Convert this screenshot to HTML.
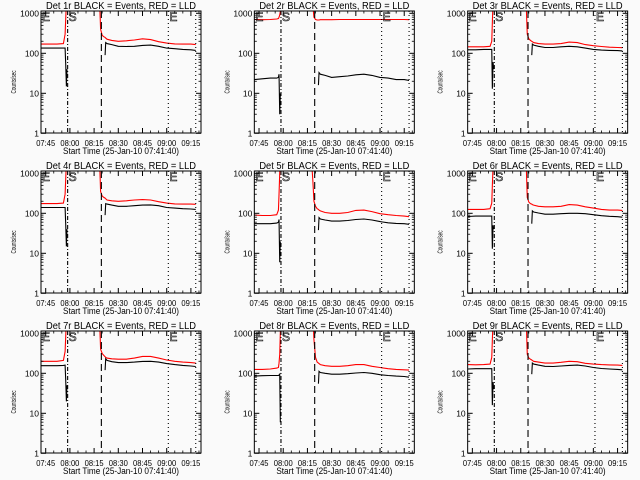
<!DOCTYPE html>
<html><head><meta charset="utf-8"><style>
html,body{margin:0;padding:0;background:#fafafa;}
svg{display:block;font-family:"Liberation Sans",sans-serif;}
</style></head><body>
<svg id="chart" width="640" height="480" viewBox="0 0 640 480" xmlns="http://www.w3.org/2000/svg">
<rect width="640" height="480" fill="#fafafa"/>
</svg>
<script>
// time in minutes since 07:45
const times = [-2.8, 2, 7, 11, 12, 12.4, 12.8, 13.2, 13.6, 32.8, 33.4, 34, 35, 36, 36.8, 37.2, 38, 41, 45, 50, 55, 60, 65, 70, 75, 80, 85, 90, 93];
const xTickLabels = ["07:45","08:00","08:15","08:30","08:45","09:00","09:15"];
const xTickTimes = [0,15,30,45,60,75,90];
const yTickLabels = ["1","10","100","1000"];
const yTickValues = [1,10,100,1000];
const panelTitles = ["Det 1r BLACK = Events, RED = LLD","Det 2r BLACK = Events, RED = LLD","Det 3r BLACK = Events, RED = LLD","Det 4r BLACK = Events, RED = LLD","Det 5r BLACK = Events, RED = LLD","Det 6r BLACK = Events, RED = LLD","Det 7r BLACK = Events, RED = LLD","Det 8r BLACK = Events, RED = LLD","Det 9r BLACK = Events, RED = LLD"];
const markerTimes = [13.6, 34.5, 76, 93];
const N = null;
const red1 = [170,170,170,175,300,700,2000,5000,5000,5000,2000,400,280,260,250,240,225,210,200,205,215,230,220,195,180,172,170,170,165];
const black1 = [135,135,135,135,135,55,15,40,N,N,N,N,N,N,90,185,175,165,150,148,150,158,160,150,135,130,125,122,118];
const red2 = [700,690,700,720,740,800,900,1100,5000,5000,1500,800,700,680,680,680,690,690,690,700,700,700,700,700,700,700,700,700,690];
const black2 = [22,23,24,24,25,30,3,10,N,N,N,N,N,N,16,33,30,28,25,26,27,29,30,28,25,24,22,22,21];
const red3 = [145,145,145,150,200,600,2000,5000,5000,5000,1500,300,230,210,200,195,185,175,170,170,175,190,185,165,155,148,142,140,138];
const black3 = [122,122,125,125,125,13,60,40,N,N,N,N,N,N,90,170,160,150,140,140,145,150,145,135,125,120,118,117,115];
const red4 = [175,175,175,180,300,700,2000,5000,5000,5000,2000,350,270,250,240,230,215,205,200,205,215,220,215,195,180,172,170,170,168];
const black4 = [140,140,140,140,140,55,15,40,N,N,N,N,N,N,90,175,170,160,150,150,155,160,162,155,140,135,130,128,125];
const red5 = [90,88,88,92,120,300,1000,5000,5000,1500,600,200,150,130,125,120,115,105,100,100,105,118,120,110,98,92,88,85,82];
const black5 = [55,55,55,57,60,70,6,20,N,N,N,N,N,N,38,78,72,68,64,64,66,70,72,68,62,58,56,55,53];
const red6 = [125,125,125,130,180,500,1500,5000,5000,5000,1500,250,190,175,170,165,160,150,145,145,150,165,160,145,135,125,120,120,118];
const black6 = [83,85,85,85,85,13,50,40,N,N,N,N,N,N,55,115,108,102,95,95,98,100,100,98,92,87,84,82,80];
const red7 = [200,200,200,210,350,800,2500,5000,5000,5000,2000,400,310,280,260,250,240,230,225,225,240,265,265,240,215,200,190,185,180];
const black7 = [155,155,155,158,160,70,20,50,N,N,N,N,N,N,120,230,210,195,185,185,190,198,200,190,175,165,158,152,148];
const red8 = [125,125,128,135,140,180,300,1000,5000,5000,2500,700,250,190,180,175,165,155,150,150,155,165,165,150,140,130,125,122,120];
const black8 = [85,87,88,88,88,90,95,6,N,N,N,N,N,N,55,112,105,100,95,95,98,102,105,100,92,88,85,83,80];
const red9 = [165,163,165,170,250,700,2000,5000,5000,5000,2000,300,240,225,215,210,200,190,180,180,188,200,195,178,170,165,162,160,158];
const black9 = [128,130,130,130,130,16,60,40,N,N,N,N,N,N,95,180,170,160,150,148,152,158,160,152,140,132,128,125,122];
const redSeries = [red1,red2,red3,red4,red5,red6,red7,red8,red9];
const blackSeries = [black1,black2,black3,black4,black5,black6,black7,black8,black9];

const NS = "http://www.w3.org/2000/svg";
const svg = document.getElementById("chart");
function mk(tag, attrs, parent){
  const e = document.createElementNS(NS, tag);
  for (const k in attrs) e.setAttribute(k, attrs[k]);
  (parent||svg).appendChild(e);
  return e;
}
const BL=41, BR=201, BT=11, BB=133;
function xs(t){ return 45.7 + t*(24.2/15); }
function ys(v){ return 133.3 - Math.log10(v)*40; }

for (let p=0;p<9;p++){
  const ox = (p%3)*213.33, oy = Math.floor(p/3)*160;
  const g = mk("g",{transform:`translate(${ox.toFixed(2)},${oy})`});
  
  
  const cp = mk("clipPath",{id:"clip"+p}, g);
  mk("rect",{x:BL,y:BT,width:BR-BL,height:BB-BT},cp);

  const title = mk("text",{x:121,y:9,"font-size":"10","text-anchor":"middle",textLength:"150",lengthAdjust:"spacingAndGlyphs"},g);
  title.textContent = panelTitles[p];
  
  

  [[redSeries[p],"#ff0000","red-lld-line"],[blackSeries[p],"#000000","black-events-line"]].forEach(([vals,col,name])=>{
    let d="", pen=false;
    for (let i=0;i<times.length && i<vals.length;i++){
      const v = vals[i];
      if (v===null){ pen=false; continue; }
      d += (pen?"L":"M") + xs(times[i]).toFixed(1) + " " + ys(v).toFixed(1) + " ";
      pen=true;
    }
    const path = mk("path",{d:d,fill:"none",stroke:col,"stroke-width":"1.1","clip-path":`url(#clip${p})`},g);
    
    
  });

  const dashes = ["4,2,1,2","7,4","1,3","1,3"];
  markerTimes.forEach((t,i)=>{
    const l = mk("line",{x1:xs(t),x2:xs(t),y1:BT,y2:BB,stroke:"#000","stroke-width":"1.1","stroke-dasharray":dashes[i]},g);
    
    
  });
  [["E",BL+1],["S",xs(markerTimes[0])+1],["E",xs(markerTimes[2])+1]].forEach(([s,x])=>{
    const tx = mk("text",{x:x,y:21,"font-size":"12",fill:"none",stroke:"#000","stroke-width":"0.6"},g);
    tx.textContent = s;
    
    
  });

  const box = mk("rect",{x:BL,y:BT,width:BR-BL,height:BB-BT,fill:"none",stroke:"#000","stroke-width":"1"},g);
  
  

  yTickValues.forEach((v,i)=>{
    const y = ys(v);
    mk("line",{x1:BL,x2:BL+5,y1:y,y2:y,stroke:"#000"},g);
    mk("line",{x1:BR,x2:BR-5,y1:y,y2:y,stroke:"#000"},g);
    const lb = mk("text",{x:39,y:y+3,"font-size":"8.5","text-anchor":"end"},g);
    lb.textContent = yTickLabels[i];
    
    
    if (v<1000) for (let m=2;m<=9;m++){
      const ym = ys(v*m);
      mk("line",{x1:BL,x2:BL+2.5,y1:ym,y2:ym,stroke:"#000","stroke-width":"0.8"},g);
      mk("line",{x1:BR,x2:BR-2.5,y1:ym,y2:ym,stroke:"#000","stroke-width":"0.8"},g);
    }
  });
  xTickTimes.forEach((t,i)=>{
    const x = xs(t);
    mk("line",{x1:x,x2:x,y1:BB,y2:BB-5,stroke:"#000"},g);
    mk("line",{x1:x,x2:x,y1:BT,y2:BT+5,stroke:"#000"},g);
    const lb = mk("text",{x:x,y:146,"font-size":"8.5","text-anchor":"middle",textLength:"19",lengthAdjust:"spacingAndGlyphs"},g);
    lb.textContent = xTickLabels[i];
    
    
  });
  for (let t=0; t<=96; t+=5){
    if (t%15===0) continue;
    const x = xs(t);
    mk("line",{x1:x,x2:x,y1:BB,y2:BB-2.5,stroke:"#000","stroke-width":"0.8"},g);
    mk("line",{x1:x,x2:x,y1:BT,y2:BT+2.5,stroke:"#000","stroke-width":"0.8"},g);
  }
  const xt = mk("text",{x:121,y:154,"font-size":"9","text-anchor":"middle",textLength:"116",lengthAdjust:"spacingAndGlyphs"},g);
  xt.textContent = "Start Time (25-Jan-10 07:41:40)";
  
  
  const yt = mk("text",{x:0,y:0,"font-size":"7.5","text-anchor":"middle",textLength:"23",lengthAdjust:"spacingAndGlyphs",transform:"translate(16,82) rotate(-90)"},g);
  yt.textContent = "Counts/sec";
  
  
}
</script>
</body></html>
